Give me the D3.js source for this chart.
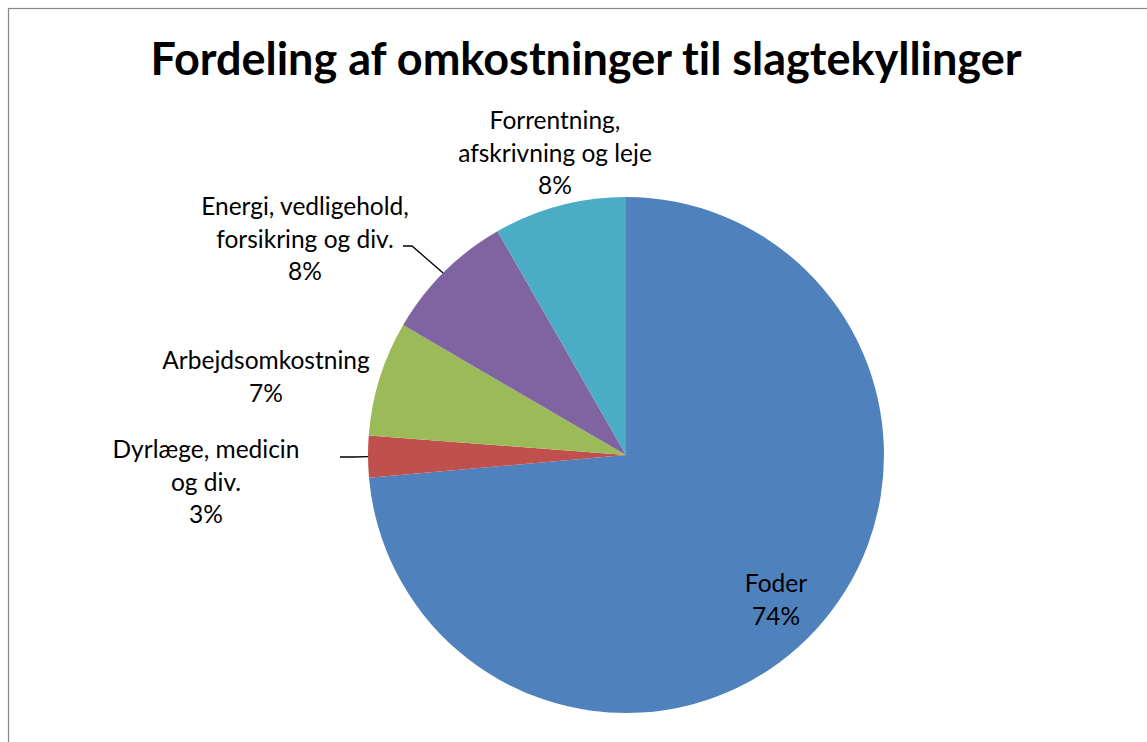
<!DOCTYPE html>
<html>
<head>
<meta charset="utf-8">
<script src="https://cdn.jsdelivr.net/npm/d3@7"></script>
<style>
  body { margin: 0; background: #fff; }
  svg text { font-family: Lato, "Open Sans", sans-serif; fill: #000; font-variant-ligatures: none; font-feature-settings: "liga" 0, "clig" 0; }
</style>
</head>
<body>
<svg id="chart" width="1147" height="742"></svg>
<script>
(function(){
    "use strict";

    // chart data
    var categories = ["Foder", "Dyrlæge, medicin og div.", "Arbejdsomkostning",
        "Energi, vedligehold, forsikring og div.", "Forrentning, afskrivning og leje"];
    var values = [73.6, 2.6, 7.2, 8.3, 8.3];
    var percentLabels = ["74%", "3%", "7%", "8%", "8%"];
    var labelLines = [
        ["Foder"],
        ["Dyrlæge, medicin", "og div."],
        ["Arbejdsomkostning"],
        ["Energi, vedligehold,", "forsikring og div."],
        ["Forrentning,", "afskrivning og leje"]
    ];
    var colors = ["#4F81BD", "#C0504D", "#9BBB59", "#8064A2", "#4BACC6"];

    var svg = d3.select("#chart");

    // outer frame (runs off the right / bottom edge)
    svg.append("rect")
        .attr("x", 8.5).attr("y", 8.5)
        .attr("width", 1160).attr("height", 760)
        .attr("fill", "#fff")
        .attr("stroke", "#888").attr("stroke-width", 1.2);

    svg.append("text")
        .attr("x", 586).attr("y", 75)
        .attr("text-anchor", "middle")
        .style("font-size", "45px").style("font-weight", "bold")
        .text("Fordeling af omkostninger til slagtekyllinger");

    var cx = 626, cy = 455, r = 258;
    var g = svg.append("g").attr("transform", "translate(" + cx + "," + cy + ")");

    var pie = d3.pie().sort(null).value(function(d){ return d; });
    var arcs = pie(values);
    var arc = d3.arc().innerRadius(0).outerRadius(r);

    g.selectAll("path.slice")
        .data(arcs)
        .enter().append("path")
        .attr("class", "slice")
        .attr("d", arc)
        .attr("fill", function(d, i){ return colors[i]; });

    // label placement (centre x, first line y) in chart coordinates
    var labelPos = [
        [776, 592],
        [206, 458],
        [266, 369],
        [305, 215],
        [555, 129]
    ];
    var lineH = 32.5;

    arcs.forEach(function(d, i){
        var lines = labelLines[i].concat([percentLabels[i]]);
        var t = svg.append("text")
            .attr("text-anchor", "middle")
            .style("font-size", "24.5px")
            .attr("data-cat", categories[i]);
        lines.forEach(function(s, k){
            t.append("tspan")
                .attr("x", labelPos[i][0])
                .attr("y", labelPos[i][1] + k * lineH)
                .text(s);
        });
    });

    // leader lines
    function edgePoint(d, frac){
        var a = d.startAngle + (d.endAngle - d.startAngle) * frac;
        return [cx + Math.sin(a) * r, cy - Math.cos(a) * r];
    }
    var pEnergi = edgePoint(arcs[3], 0.5);
    svg.append("path")
        .attr("d", "M403,246H412L" + (pEnergi[0] - 1) + "," + (pEnergi[1] + 1))
        .attr("fill", "none").attr("stroke", "#000").attr("stroke-width", 1.3);
    var pDyr = edgePoint(arcs[1], 0.5);
    svg.append("path")
        .attr("d", "M340,457H354L" + pDyr[0] + "," + pDyr[1])
        .attr("fill", "none").attr("stroke", "#000").attr("stroke-width", 1.3);
})();
</script>
</body>
</html>
